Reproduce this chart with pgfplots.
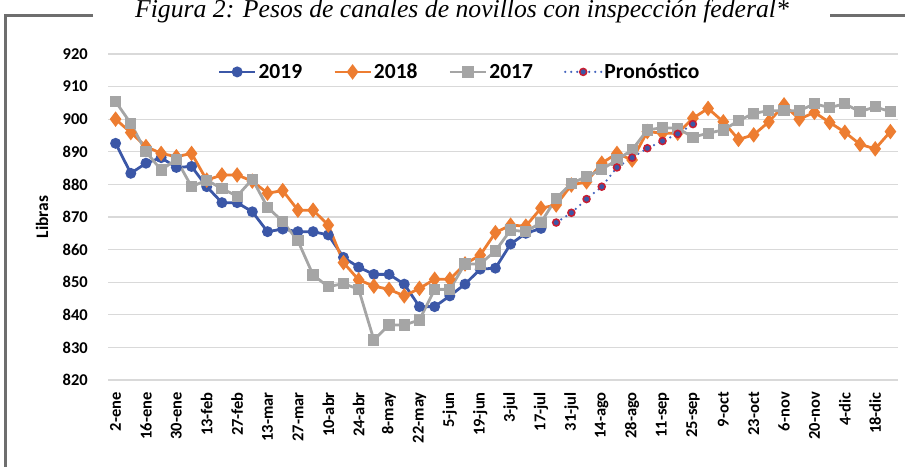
\documentclass[border=0pt]{standalone}
\usepackage{fontspec}
\setmainfont{Carlito}
\newfontfamily\titlefont{Liberation Serif}
\usepackage{pgfplots}
\usepackage{pgfplotstable}
\pgfplotsset{compat=1.18}
\definecolor{c19}{RGB}{59,87,167}
\definecolor{c18}{RGB}{237,125,49}
\definecolor{c17}{RGB}{165,165,165}
\definecolor{cf}{RGB}{68,100,190}
\definecolor{cfr}{RGB}{200,30,50}
\definecolor{framec}{RGB}{110,110,110}
\definecolor{gridc}{RGB}{217,217,217}

\pgfplotstableread{
x y
0 892.6
1 883.4
2 886.5
3 888.2
4 885.2
5 885.5
6 879.3
7 874.4
8 874.4
9 871.6
10 865.5
11 866.3
12 865.5
13 865.5
14 864.5
15 857.6
16 854.6
17 852.4
18 852.4
19 849.4
20 842.5
21 842.5
22 845.8
23 849.4
24 854.0
25 854.3
26 861.7
27 865.0
28 866.5
}\tblA

\pgfplotstableread{
x y
0 900.0
1 895.9
2 891.6
3 889.5
4 888.5
5 889.5
6 881.3
7 882.9
8 882.9
9 881.0
10 877.3
11 878.1
12 872.1
13 872.1
14 867.5
15 856.0
16 850.7
17 848.8
18 847.8
19 845.8
20 848.1
21 850.9
22 850.9
23 855.6
24 858.3
25 865.2
26 867.5
27 867.2
28 872.7
29 873.7
30 879.8
31 880.8
32 886.5
33 889.5
34 887.5
35 896.2
36 895.7
37 895.7
38 900.3
39 903.3
40 899.2
41 893.8
42 895.2
43 899.2
44 904.4
45 900.0
46 902.1
47 899.0
48 896.0
49 892.3
50 890.9
51 896.2
}\tblB

\pgfplotstableread{
x y
0 905.4
1 898.7
2 890.0
3 884.4
4 887.7
5 879.3
6 881.3
7 878.7
8 876.4
9 881.6
10 873.0
11 868.6
12 862.7
13 852.2
14 848.6
15 849.6
16 847.8
17 832.3
18 836.9
19 836.9
20 838.4
21 847.8
22 847.8
23 855.6
24 855.6
25 859.6
26 866.0
27 865.5
28 868.3
29 875.7
30 880.3
31 882.4
32 884.6
33 887.5
34 890.6
35 896.7
36 897.4
37 897.2
38 894.5
39 895.7
40 896.7
41 899.5
42 901.8
43 902.6
44 902.6
45 902.6
46 904.7
47 903.6
48 904.7
49 902.3
50 903.8
51 902.3
}\tblC

\pgfplotstableread{
x y
29 868.3
30 871.3
31 875.5
32 879.3
33 885.2
34 888.2
35 891.1
36 893.3
37 895.5
38 898.5
}\tblD

\begin{document}
\begin{tikzpicture}
\useasboundingbox (0,0) rectangle (905pt,466pt);
\draw[framec, line width=3pt] (93pt,450pt) -- (5pt,450pt) -- (5pt,-5pt);
\draw[framec, line width=3pt] (830pt,450pt) -- (910pt,450pt);
\node[anchor=base, inner sep=0pt, font=\titlefont\itshape\fontsize{25.7}{30}\selectfont] at (462pt,448pt) {Figura 2: Pesos de canales de novillos con inspección federal*};
\begin{axis}[
  scale only axis, width=790pt, height=326pt,
  at={(108pt,86pt)}, anchor=south west,
  xmin=-0.5, xmax=51.5, ymin=820, ymax=920,
  ytick={820,830,...,920},
  xtick={0,2,...,50},
  xticklabels={2-ene,16-ene,30-ene,13-feb,27-feb,13-mar,27-mar,10-abr,24-abr,8-may,22-may,5-jun,19-jun,3-jul,17-jul,31-jul,14-ago,28-ago,11-sep,25-sep,9-oct,23-oct,6-nov,20-nov,4-dic,18-dic},
  /pgf/number format/assume math mode=true,
  axis line style={draw=none},
  tick style={draw=none},
  ymajorgrids,
  grid style={draw=gridc, line width=1.3pt},
  xticklabel style={rotate=90, anchor=east, inner sep=0pt, font=\bfseries\fontsize{16.5}{18}\selectfont},
  yticklabel style={anchor=east, inner sep=0pt, font=\bfseries\fontsize{16.5}{18}\selectfont},
  xticklabel shift=12pt,
  yticklabel shift=20pt,
  ylabel={Libras},
  every axis y label/.style={at={(axis description cs:-0.0835,0.5)}, rotate=90, anchor=center, font=\bfseries\fontsize{17.5}{19}\selectfont},
  legend style={at={(axis description cs:0.445,0.945)}, anchor=center, draw=none, fill=white, legend columns=4,
    font=\bfseries\fontsize{21.5}{24}\selectfont,
    /tikz/every even column/.append style={column sep=29pt}},
  legend image code/.code={\draw[mark repeat=2,mark phase=2,#1] plot coordinates {(0pt,0pt) (18pt,0pt) (36pt,0pt)};},
  clip=false,
]
\addplot[c19, line width=2.8pt, mark=*, mark size=4pt, mark options={solid}] table {\tblA};
\addlegendentry{2019}
\addplot[c18, line width=2.8pt, mark=diamond*, mark size=5.5pt, mark options={solid}] table {\tblB};
\addlegendentry{2018}
\addplot[c17, line width=2.8pt, mark=square*, mark size=4.2pt, mark options={solid}] table {\tblC};
\addlegendentry{2017}
\addplot[cf, line width=2.5pt, dash pattern=on 0pt off 6pt, line cap=round, mark=*, mark size=3.5pt, mark options={solid, fill=c19, draw=cfr, line width=1.5pt}] table {\tblD};
\addlegendentry{Pronóstico}
\end{axis}
\end{tikzpicture}
\end{document}
